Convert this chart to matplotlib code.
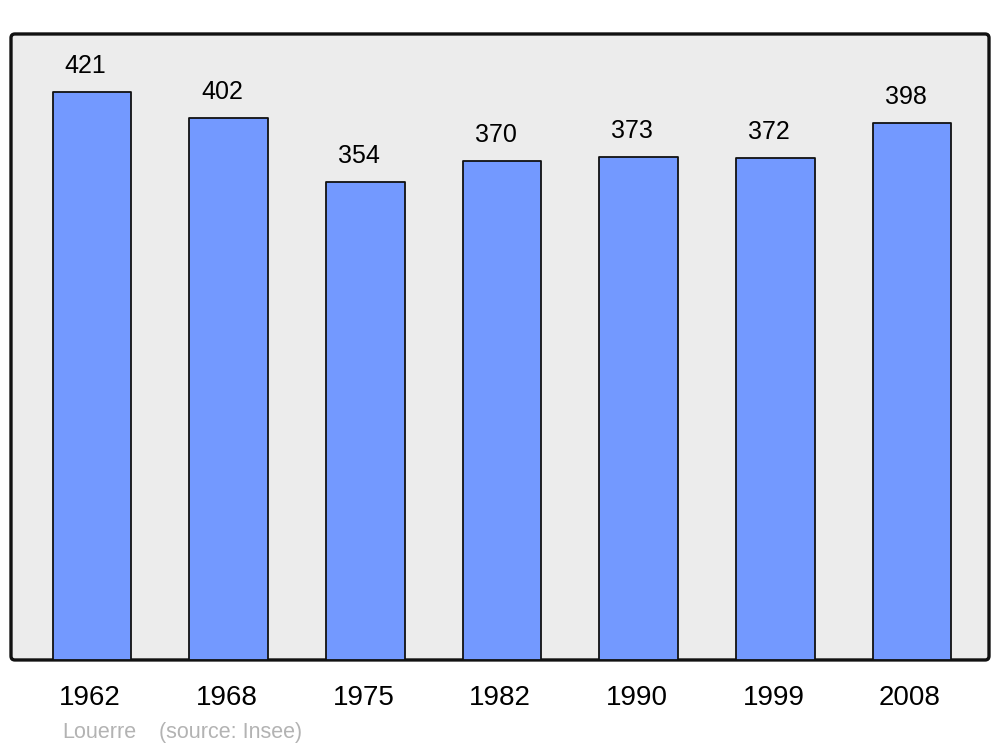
import matplotlib
matplotlib.use("Agg")
from matplotlib import pyplot as plt
from matplotlib.patches import FancyBboxPatch
from matplotlib import transforms

years = ['1962', '1968', '1975', '1982', '1990', '1999', '2008']
population = [421, 402, 354, 370, 373, 372, 398]
commune = 'Louerre'
source = '(source: Insee)'

plt.rcParams['font.family'] = ['Liberation Sans', 'DejaVu Sans']

fig = plt.figure(figsize=(10, 7.47), dpi=100)
ax = fig.add_axes([0.011, 0.1165, 0.978, 0.838])
ax.patch.set_visible(False)
for s in ax.spines.values():
    s.set_visible(False)

# rounded frame behind the bars
frame = FancyBboxPatch((0, 0), 1, 1, transform=ax.transAxes,
                       boxstyle='round,pad=0,rounding_size=0.004',
                       mutation_aspect=0.978 * 1000 / (0.838 * 747),
                       facecolor='#ececec', edgecolor='#111111',
                       linewidth=2.4, zorder=0, clip_on=False)
ax.add_patch(frame)

x = list(range(len(years)))
bars = ax.bar(x, population, width=0.575, color='#7399ff',
              edgecolor='#111111', linewidth=1.3, zorder=2)
for b in bars:
    b.set_joinstyle('round')

ax.set_xlim(-0.593, 6.563)
ax.set_ylim(0, 464)
ax.set_xticks([])
ax.set_yticks([])

for xi, v, yr in zip(x, population, years):
    off = transforms.offset_copy(ax.transData, fig=fig, x=-6.5, y=19, units='dots')
    ax.text(xi, v, str(v), transform=off, ha='center', va='baseline',
            fontsize=18, color='black')
    off2 = transforms.offset_copy(ax.get_xaxis_transform(), fig=fig, x=-2, y=-45, units='dots')
    ax.text(xi, 0, yr, transform=off2, ha='center', va='baseline',
            fontsize=20, color='black')

fig.text(62 / 1000, 1 - 738 / 747, commune, fontsize=15.5, color='#b3b3b3',
         ha='left', va='baseline')
fig.text(159 / 1000, 1 - 738 / 747, source, fontsize=15.5, color='#b3b3b3',
         ha='left', va='baseline')

fig.savefig('out.png', dpi=100)
